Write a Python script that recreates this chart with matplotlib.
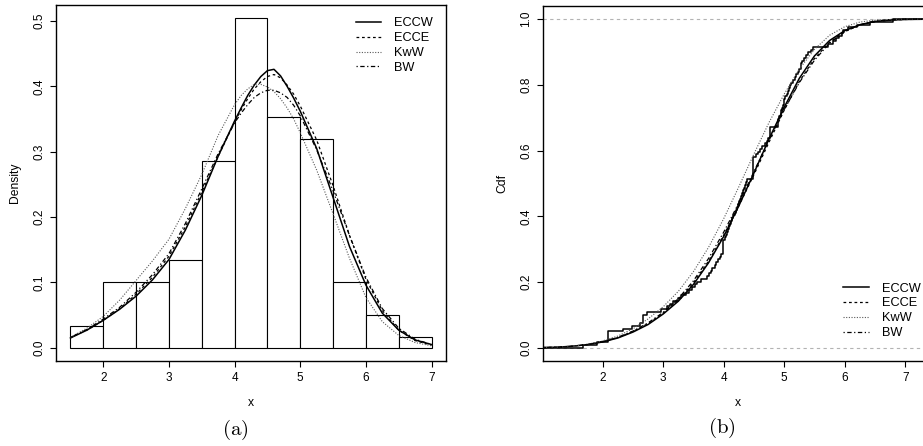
import matplotlib
matplotlib.use("Agg")
import matplotlib.pyplot as plt
import numpy as np

plt.rcParams["font.family"] = ["Liberation Sans", "DejaVu Sans"]
plt.rcParams["mathtext.fontset"] = "cm"

# sample values (sorted)
obs = [
    1.67, 1.90,
    2.08, 2.08, 2.08, 2.08, 2.34, 2.49,
    2.62, 2.67, 2.67, 2.67, 2.73, 2.97,
    3.06, 3.12, 3.17, 3.24, 3.30, 3.37, 3.43, 3.48,
    3.52, 3.56, 3.62, 3.72, 3.75, 3.79, 3.81, 3.86, 3.88, 3.91, 3.94, 3.96,
    3.99, 3.99, 3.99, 3.99, 3.99,
    4.02, 4.04, 4.05, 4.07, 4.08, 4.10, 4.12, 4.14, 4.16, 4.18, 4.20, 4.22,
    4.24, 4.26, 4.27, 4.29, 4.30, 4.32, 4.33, 4.35, 4.37, 4.38,
    4.49, 4.49, 4.49, 4.49, 4.49, 4.49, 4.49, 4.49,
    4.53, 4.56, 4.60, 4.64, 4.68, 4.71, 4.74, 4.76, 4.76, 4.77, 4.77,
    4.89, 4.90, 4.90, 4.92, 4.94, 4.95, 4.97, 4.98, 4.99, 4.99,
    5.02, 5.04, 5.06, 5.08, 5.10, 5.12, 5.15, 5.18, 5.20, 5.22, 5.25, 5.27,
    5.28, 5.30, 5.33, 5.36, 5.40, 5.44, 5.48,
    5.72, 5.80, 5.85, 5.90, 5.95, 5.98,
    6.05, 6.20, 6.42,
    6.80,
]
bin_edges = [1.5, 2.0, 2.5, 3.0, 3.5, 4.0, 4.5, 5.0, 5.5, 6.0, 6.5, 7.0]

dens_x = [1.5, 1.75, 2.0, 2.25, 2.5, 2.75, 3.0, 3.25, 3.5, 3.75, 4.0, 4.1,
          4.2, 4.3, 4.4, 4.5, 4.6, 4.7, 4.8, 4.9, 5.0, 5.25, 5.5, 5.75, 6.0,
          6.25, 6.5, 6.75, 7.0]
dens_eccw = [0.015, 0.027, 0.042, 0.059, 0.079, 0.104, 0.135, 0.180, 0.233,
             0.293, 0.347, 0.367, 0.386, 0.402, 0.415, 0.424, 0.426, 0.416,
             0.400, 0.382, 0.362, 0.305, 0.230, 0.155, 0.096, 0.053, 0.027,
             0.012, 0.005]
dens_ecce = [0.016, 0.027, 0.042, 0.060, 0.082, 0.108, 0.140, 0.185, 0.238,
             0.293, 0.345, 0.364, 0.381, 0.396, 0.407, 0.415, 0.418, 0.413,
             0.402, 0.388, 0.370, 0.318, 0.248, 0.172, 0.105, 0.057, 0.027,
             0.011, 0.004]
dens_kww = [0.016, 0.030, 0.048, 0.073, 0.103, 0.133, 0.166, 0.213, 0.265,
            0.325, 0.372, 0.386, 0.396, 0.403, 0.403, 0.399, 0.392, 0.381,
            0.367, 0.350, 0.329, 0.272, 0.205, 0.137, 0.077, 0.040, 0.019,
            0.008, 0.003]
dens_bw = [0.016, 0.028, 0.044, 0.062, 0.085, 0.112, 0.144, 0.190, 0.243,
           0.297, 0.344, 0.359, 0.372, 0.383, 0.390, 0.394, 0.394, 0.390,
           0.383, 0.371, 0.355, 0.303, 0.240, 0.172, 0.108, 0.060, 0.030,
           0.013, 0.005]

cdf_x = [1.02, 1.25, 1.5, 1.75, 2.0, 2.25, 2.5, 2.75, 3.0, 3.25, 3.5, 3.75,
         4.0, 4.25, 4.5, 4.75, 5.0, 5.25, 5.5, 5.75, 6.0, 6.25, 6.5, 6.75,
         7.0, 7.45]
cdf_eccw = [0.001, 0.002, 0.005, 0.010, 0.018, 0.030, 0.048, 0.071, 0.103,
            0.142, 0.193, 0.259, 0.339, 0.432, 0.532, 0.636, 0.732, 0.820,
            0.888, 0.935, 0.965, 0.983, 0.993, 0.997, 0.999, 1.000]
cdf_ecce = [0.001, 0.002, 0.005, 0.010, 0.019, 0.031, 0.050, 0.074, 0.106,
            0.146, 0.198, 0.264, 0.343, 0.432, 0.527, 0.626, 0.723, 0.810,
            0.880, 0.930, 0.962, 0.982, 0.992, 0.997, 0.999, 1.000]
cdf_kww = [0.001, 0.002, 0.005, 0.011, 0.021, 0.036, 0.058, 0.088, 0.125,
           0.172, 0.232, 0.306, 0.393, 0.490, 0.590, 0.686, 0.772, 0.848,
           0.908, 0.951, 0.977, 0.991, 0.997, 0.999, 1.000, 1.000]
cdf_bw = [0.001, 0.002, 0.005, 0.010, 0.019, 0.032, 0.051, 0.076, 0.108,
          0.150, 0.204, 0.272, 0.352, 0.441, 0.536, 0.633, 0.725, 0.807,
          0.875, 0.927, 0.962, 0.983, 0.994, 0.999, 1.000, 1.000]

labels = ["ECCW", "ECCE", "KwW", "BW"]
styles = [
    dict(color="black", lw=1.1, ls="-"),
    dict(color="black", lw=0.9, ls=(0, (2.2, 2.2))),
    dict(color="0.35", lw=0.8, ls=(0, (1, 1.4))),
    dict(color="black", lw=0.9, ls=(0, (1, 2, 3.5, 2))),
]

W, H = 923, 446
FS_TICK = 8.5
FS_LAB = 8.7
FS_LEG = 9.2


def style_axes(ax, xticks, yticks, ylabel_fmt):
    for s in ax.spines.values():
        s.set_linewidth(1.0)
        s.set_color("black")
    ax.set_xticks(xticks)
    ax.set_yticks(yticks)
    ax.set_xticklabels([str(t) for t in xticks])
    ax.set_yticklabels([ylabel_fmt.format(t) for t in yticks])
    ax.tick_params(direction="out", length=4.4, width=0.8, labelsize=FS_TICK,
                   pad=3.5)
    for lbl in ax.get_yticklabels():
        lbl.set_rotation(90)
        lbl.set_va("center")


fig = plt.figure(figsize=(W / 100, H / 100), dpi=100)

ax1 = fig.add_axes([56 / W, 1 - 361 / H, 390 / W, 356 / H])
ax1.hist(obs, bins=bin_edges, density=True, facecolor="white",
         edgecolor="black", linewidth=0.8)
curves = [dens_eccw, dens_ecce, dens_kww, dens_bw]
handles = []
for vals, st, lab in zip(curves, styles, labels):
    (h,) = ax1.plot(dens_x, vals, label=lab, **st)
    handles.append(h)
ax1.set_xlim(1.28, 7.22)
ax1.set_ylim(-0.0202, 0.5244)
style_axes(ax1, [2, 3, 4, 5, 6, 7], [0.0, 0.1, 0.2, 0.3, 0.4, 0.5], "{:.1f}")
ax1.set_xlabel("x", fontsize=FS_LAB)
ax1.set_ylabel("Density", fontsize=FS_LAB)
ax1.xaxis.set_label_coords(0.5, -0.102)
ax1.yaxis.set_label_coords(-0.09, 0.5)
ax1.legend(handles=handles, loc="upper left", bbox_to_anchor=(0.769, 0.966),
           frameon=False, borderpad=0, borderaxespad=0, handlelength=2.0,
           handletextpad=1.0, labelspacing=0.23, fontsize=FS_LEG)

ax2 = fig.add_axes([543 / W, 1 - 361 / H, 389 / W, 355 / H])
xs = np.sort(np.array(obs))
fs = np.arange(1, len(xs) + 1) / len(xs)
ax2.axhline(0, color="0.7", lw=0.8, ls=(0, (3, 3)))
ax2.axhline(1, color="0.7", lw=0.8, ls=(0, (3, 3)))
ax2.step(np.r_[1.013, xs, 7.443], np.r_[0, fs, 1], where="post",
         color="black", lw=1.1)
handles2 = []
for vals, st, lab in zip([cdf_eccw, cdf_ecce, cdf_kww, cdf_bw], styles, labels):
    (h,) = ax2.plot(cdf_x, vals, label=lab, **st)
    handles2.append(h)
ax2.set_xlim(1.013, 7.443)
ax2.set_ylim(-0.04, 1.04)
style_axes(ax2, [2, 3, 4, 5, 6, 7], [0.0, 0.2, 0.4, 0.6, 0.8, 1.0], "{:.1f}")
ax2.set_xlabel("x", fontsize=FS_LAB)
ax2.set_ylabel("Cdf", fontsize=FS_LAB)
ax2.xaxis.set_label_coords(0.5, -0.102)
ax2.yaxis.set_label_coords(-0.09, 0.5)
ax2.legend(handles=handles2, loc="upper left", bbox_to_anchor=(0.772, 0.221),
           frameon=False, borderpad=0, borderaxespad=0, handlelength=2.0,
           handletextpad=1.0, labelspacing=0.23, fontsize=FS_LEG)

fig.text(235 / W, 1 - 430 / H, r"$\mathrm{(a)}$", fontsize=15,
         ha="center", va="center")
fig.text(722 / W, 1 - 428 / H, r"$\mathrm{(b)}$", fontsize=15,
         ha="center", va="center")

fig.savefig("out.png", dpi=100)
plt.close(fig)
